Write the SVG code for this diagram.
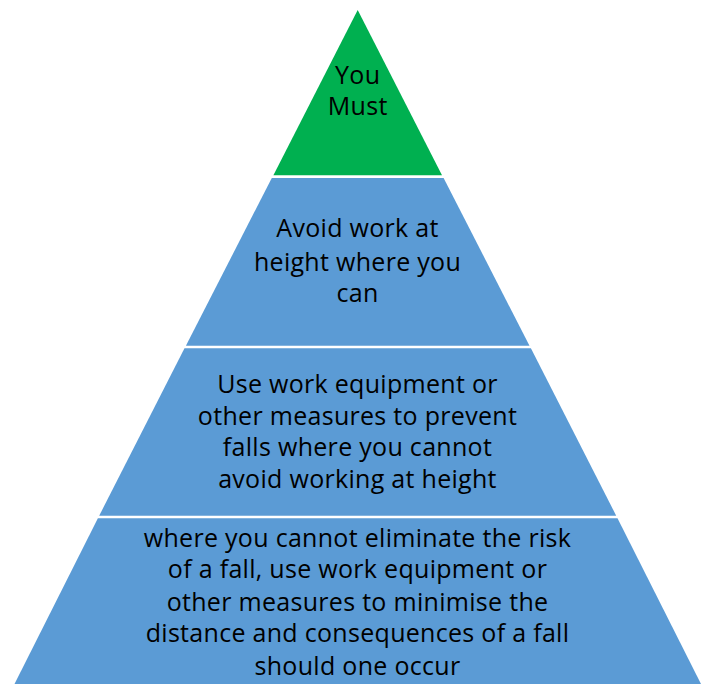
<svg xmlns="http://www.w3.org/2000/svg" width="706" height="684" viewBox="0 0 706 684">
<style>
.t{font-family:"Open Sans","DejaVu Sans",sans-serif;font-size:25px;letter-spacing:0.3px;fill:#000;text-anchor:middle}
.g{fill:#00B050}
.b{fill:#5B9BD5}
</style>
<rect width="706" height="684" fill="#fff"/>
<g id="layer1">
<polygon class="g" points="357.7,10 442,175.3 273.4,175.3"/>
<text class="t" x="357.7" y="83.5">You</text>
<text class="t" x="357.7" y="115">Must</text>
</g>
<g id="layer2">
<polygon class="b" points="271.8,178 443.6,178 529.5,345.7 185.9,345.7"/>
<text class="t" x="357.5" y="237">Avoid work at</text>
<text class="t" x="357.5" y="270.5">height where you</text>
<text class="t" x="357.5" y="302">can</text>
</g>
<g id="layer3">
<polygon class="b" points="184.5,348.3 530.9,348.3 616.2,515.7 99.2,515.7"/>
<text class="t" x="357.5" y="393">Use work equipment or</text>
<text class="t" x="357.5" y="424.5">other measures to prevent</text>
<text class="t" x="357.5" y="456">falls where you cannot</text>
<text class="t" x="357.5" y="487.5">avoid working at height</text>
</g>
<g id="layer4">
<polygon class="b" points="97.9,518.3 617.5,518.3 701,684 14.5,684"/>
<text class="t" x="357.5" y="546.7">where you cannot eliminate the risk</text>
<text class="t" x="357.5" y="578">of a fall, use work equipment or</text>
<text class="t" x="357.5" y="610.5">other measures to minimise the</text>
<text class="t" x="357.5" y="642">distance and consequences of a fall</text>
<text class="t" x="357.5" y="675">should one occur</text>
</g>
<g id="connectors"/>
</svg>
